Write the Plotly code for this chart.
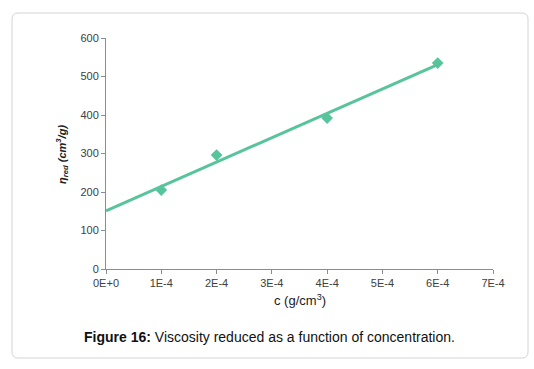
import numpy as np
import plotly.graph_objects as go

conc = [1e-4, 2e-4, 4e-4, 6e-4]
eta_red = [205, 296, 392, 535]
x_ticks = [0, 1e-4, 2e-4, 3e-4, 4e-4, 5e-4, 6e-4, 7e-4]
x_tick_labels = ["0E+0", "1E-4", "2E-4", "3E-4", "4E-4", "5E-4", "6E-4", "7E-4"]
y_ticks = [0, 100, 200, 300, 400, 500, 600]

slope, intercept = np.polyfit(conc, eta_red, 1)
fit_x = [0, 6e-4]
fit_y = [intercept + slope * v for v in fit_x]

green = "#58C49C"
fig = go.Figure()
fig.add_trace(go.Scatter(x=fit_x, y=fit_y, mode="lines",
                         line=dict(color=green, width=3), hoverinfo="skip"))
fig.add_trace(go.Scatter(x=conc, y=eta_red, mode="markers",
                         marker=dict(symbol="diamond", size=9, color=green)))

W, H = 534, 369
L, R, T, B = 106, 41, 38, 100
fig.update_layout(
    width=W, height=H, showlegend=False,
    margin=dict(l=L, r=R, t=T, b=B),
    paper_bgcolor="white", plot_bgcolor="white",
    font=dict(family="Liberation Sans, Arial, sans-serif", size=11, color="#404040"),
    xaxis=dict(range=[0, 7e-4], tickvals=x_ticks, ticktext=x_tick_labels,
               showgrid=False, zeroline=False, showline=True, linecolor="#8C8C8C",
               linewidth=1, ticks="outside", ticklen=4, tickcolor="#8C8C8C",
               tickfont=dict(size=11, color="#404040")),
    yaxis=dict(range=[0, 600], tickvals=y_ticks,
               showgrid=False, zeroline=False, showline=True, linecolor="#8C8C8C",
               linewidth=1, ticks="outside", ticklen=4, tickcolor="#8C8C8C",
               tickfont=dict(size=11, color="#404040")),
)

def px(x):
    return (x - L) / (W - L - R)

def py(y):
    return (H - B - y) / (H - T - B)

fig.add_annotation(x=px(300), y=py(300), xref="paper", yref="paper",
                   text="c (g/cm<sup>3</sup>)", showarrow=False,
                   font=dict(size=13, color="#202020"), xanchor="center", yanchor="middle")
fig.add_annotation(x=px(62), y=py(155), xref="paper", yref="paper",
                   text="<b><i>η<sub>red</sub> (cm<sup>3</sup>/g)</i></b>", showarrow=False,
                   textangle=-90, font=dict(size=11, color="#202020"),
                   xanchor="center", yanchor="middle")
fig.add_annotation(x=px(269), y=py(337), xref="paper", yref="paper",
                   text="<b>Figure 16:</b> Viscosity reduced as a function of concentration.",
                   showarrow=False, font=dict(size=14, color="#111111"),
                   xanchor="center", yanchor="middle")

# rounded frame
fig.add_shape(type="path", xref="paper", yref="paper",
              path=f"M {px(18)} {py(13)} L {px(522)} {py(13)} Q {px(528)} {py(13)} {px(528)} {py(19)} "
                   f"L {px(528)} {py(352)} Q {px(528)} {py(358)} {px(522)} {py(358)} "
                   f"L {px(18)} {py(358)} Q {px(12)} {py(358)} {px(12)} {py(352)} "
                   f"L {px(12)} {py(19)} Q {px(12)} {py(13)} {px(18)} {py(13)} Z",
              line=dict(color="#D4D4D4", width=1), layer="below")

fig.write_html("out.html", config={"displayModeBar": False},
               post_script="document.body.style.margin='0';")
